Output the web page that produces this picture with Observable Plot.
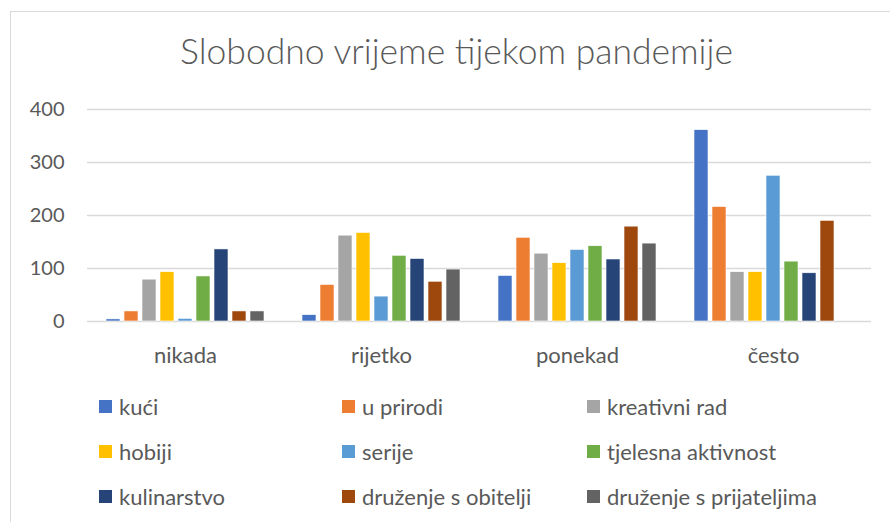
<!DOCTYPE html>
<html>
<head>
<meta charset="utf-8">
<script src="https://cdn.jsdelivr.net/npm/d3@7"></script>
<script src="https://cdn.jsdelivr.net/npm/@observablehq/plot@0.6"></script>
<style>
  html, body { margin: 0; padding: 0; background: #fff; }
  body { width: 890px; height: 522px; position: relative; overflow: hidden; font-family: Lato, "Open Sans", sans-serif; color: #595959; }
  #frame { position: absolute; left: 10px; top: 11px; width: 1000px; height: 1000px; border: 1px solid #d9d9d9; box-sizing: border-box; }
  #title { position: absolute; left: 0; width: 913px; top: 29px; text-align: center; font-size: 35.5px; font-weight: 300; white-space: nowrap; }
  #chart { position: absolute; left: 0; top: 0; }
  #legend { position: absolute; left: 0; top: 0; width: 890px; height: 522px; }
  .item { position: absolute; display: flex; align-items: center; font-size: 22px; white-space: nowrap; height: 26px; }
  .sw { width: 13px; height: 13px; margin-right: 7px; flex: none; }
</style>
</head>
<body>
<div id="frame"></div>
<div id="chart"></div>
<div id="title">Slobodno vrijeme tijekom pandemije</div>
<div id="legend"></div>
<script>
// Categories (x groups)
const categories = ["nikada", "rijetko", "ponekad", "često"];
// Series names
const series = ["kući", "u prirodi", "kreativni rad", "hobiji", "serije", "tjelesna aktivnost", "kulinarstvo", "druženje s obitelji", "druženje s prijateljima"];
const colors = ["#4472C4", "#ED7D31", "#A5A5A5", "#FFC000", "#5B9BD5", "#70AD47", "#264478", "#9E480E", "#636363"];
// Values per series, in order of categories
const kuci = [4, 12, 86, 361];
const uPrirodi = [19, 69, 158, 216];
const kreativniRad = [79, 162, 128, 93];
const hobiji = [93, 167, 110, 93];
const serije = [5, 47, 135, 275];
const tjelesnaAktivnost = [85, 124, 142, 113];
const kulinarstvo = [136, 118, 117, 91];
const druzenjeObitelji = [19, 75, 179, 190];
const druzenjePrijatelji = [19, 98, 147, 0];
const yTicks = [0, 100, 200, 300, 400];

const seriesValues = [kuci, uPrirodi, kreativniRad, hobiji, serije, tjelesnaAktivnost, kulinarstvo, druzenjeObitelji, druzenjePrijatelji];
const data = [];
series.forEach((s, i) => {
  categories.forEach((c, j) => {
    data.push({series: s, category: c, value: seriesValues[i][j]});
  });
});

const chart = Plot.plot({
  width: 890,
  height: 380,
  marginLeft: 86,
  marginRight: 18,
  marginTop: 109,
  marginBottom: 59,
  style: {fontFamily: "Lato, 'Open Sans', sans-serif", fontSize: "20px", color: "#595959", background: "transparent", overflow: "visible"},
  fx: {domain: categories, padding: 0, axis: "bottom", label: null, tickSize: 0, tickPadding: 26},
  x: {domain: series, axis: null, paddingInner: 0.2, paddingOuter: 0.85},
  y: {domain: [0, 400], ticks: yTicks, tickSize: 0, tickPadding: 23, label: null},
  color: {domain: series, range: colors},
  marks: [
    Plot.ruleY(yTicks, {stroke: "#d9d9d9", strokeWidth: 1.3}),
    Plot.barY(data, {fx: "category", x: "series", y: "value", fill: "series", stroke: "#fff", strokeWidth: 0.6})
  ]
});
document.getElementById("chart").appendChild(chart);
// category labels slightly larger than the value labels
chart.querySelectorAll("g[aria-label='fx-axis'] text, g[aria-label='fx-axis tick label'] text").forEach(t => t.setAttribute("font-size", "22px"));

// Legend
const legend = document.getElementById("legend");
const colX = [99, 342, 587];
const rowY = [406, 451, 496];
series.forEach((s, i) => {
  const el = document.createElement("div");
  el.className = "item";
  el.style.left = colX[i % 3] + "px";
  el.style.top = (rowY[Math.floor(i / 3)] - 13) + "px";
  const sw = document.createElement("span");
  sw.className = "sw";
  sw.style.background = colors[i];
  el.appendChild(sw);
  el.appendChild(document.createTextNode(s));
  legend.appendChild(el);
});
</script>
</body>
</html>
